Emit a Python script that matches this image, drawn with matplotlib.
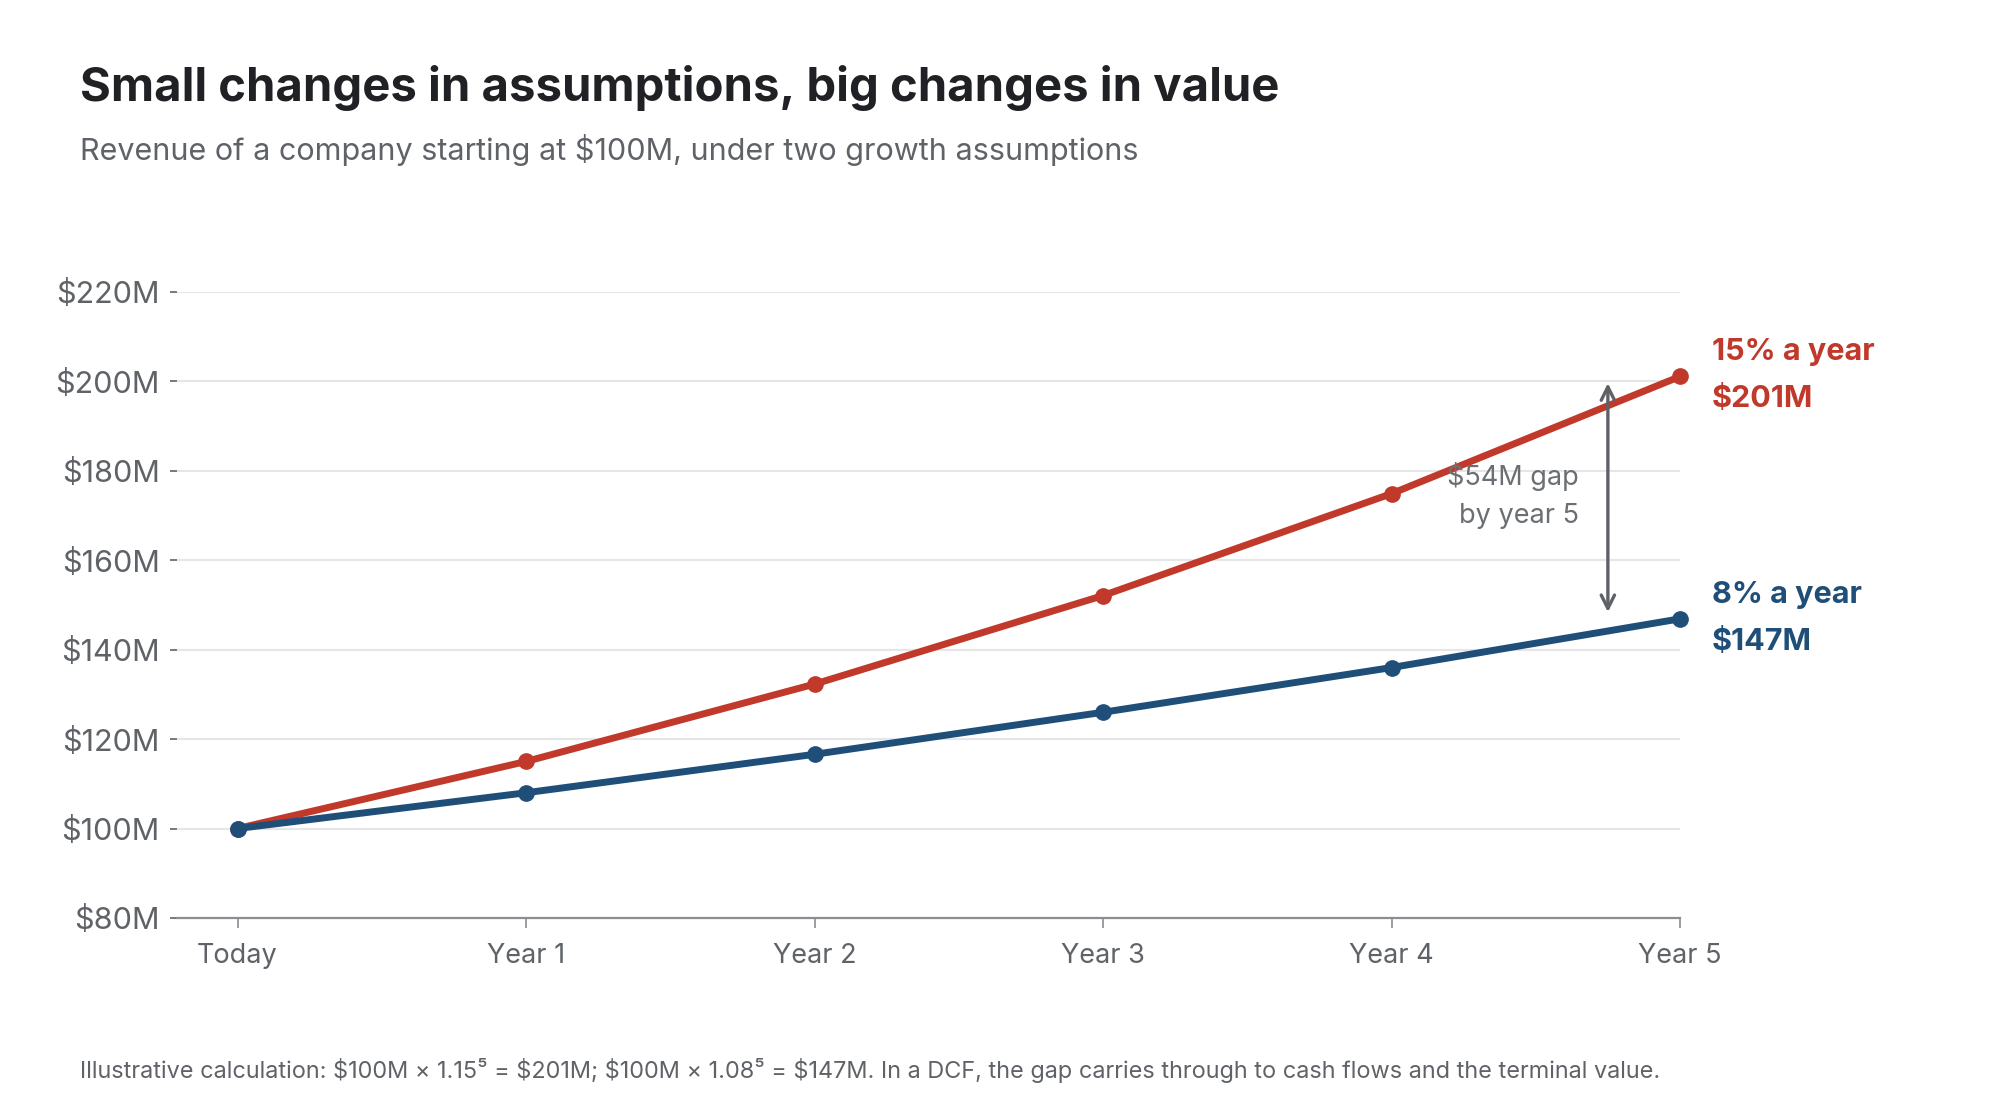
import numpy as np
import matplotlib
matplotlib.use('Agg')
import matplotlib.pyplot as plt

plt.rcParams['font.family'] = ['Inter', 'DejaVu Sans']
plt.rcParams['text.parse_math'] = False

# data
periods = ['Today', 'Year 1', 'Year 2', 'Year 3', 'Year 4', 'Year 5']
rev_15 = [100, 115, 132.3, 152.1, 174.9, 201.1]
rev_8 = [100, 108, 116.6, 126.0, 136.0, 146.9]
y_ticks = [80, 100, 120, 140, 160, 180, 200, 220]

red = '#c0392b'
blue = '#1f4e79'
grey = '#5f6368'

fig = plt.figure(figsize=(20, 11.2), dpi=100)
ax = fig.add_axes([0.0885, 0.1804, 0.7515, 0.5589])

x = np.arange(len(periods))
for yt in y_ticks[1:]:
    ax.axhline(yt, color='#e6e6e9', lw=1.5, zorder=0)

ax.plot(x, rev_15, color=red, lw=5, marker='o', ms=11, zorder=3, clip_on=False)
ax.plot(x, rev_8, color=blue, lw=5, marker='o', ms=11, zorder=3, clip_on=False)

ax.set_xlim(-0.21, 5)
ax.set_ylim(80, 220)
ax.set_xticks(x)
ax.set_xticklabels(periods)
ax.set_yticks(y_ticks)
ax.set_yticklabels(['$%dM' % v for v in y_ticks])

for s in ['top', 'right', 'left']:
    ax.spines[s].set_visible(False)
ax.spines['bottom'].set_color('#8a8d91')
ax.spines['bottom'].set_linewidth(1.6)
ax.tick_params(axis='y', length=5, width=1.2, color=grey, labelcolor=grey,
               labelsize=22, pad=7.5)
ax.tick_params(axis='x', length=7, width=1.2, color='#8a8d91', labelcolor=grey,
               labelsize=19.5, pad=11)

# end labels
for vals, col, name in [(rev_15, red, '15% a year'), (rev_8, blue, '8% a year')]:
    ax.annotate(name, (5, vals[-1]), xytext=(23, 17.5), textcoords='offset points',
                color=col, fontsize=22, fontweight='bold', va='center', ha='left',
                annotation_clip=False)
    ax.annotate('$%dM' % round(vals[-1]), (5, vals[-1]), xytext=(23, -16.5),
                textcoords='offset points', color=col, fontsize=22, fontweight='bold',
                va='center', ha='left', annotation_clip=False)

# gap arrow
ax.annotate('', xy=(4.75, rev_15[-1] - 1.5), xytext=(4.75, rev_8[-1] + 1.5),
            arrowprops=dict(arrowstyle='<->', color='#5f6166', lw=2.4,
                            mutation_scale=24, shrinkA=0, shrinkB=0))
gap = round(rev_15[-1] - rev_8[-1])
ax.text(4.65, 174.4, '$%dM gap\nby year 5' % gap, ha='right', va='center',
        fontsize=19.5, color='#6b6e73', linespacing=1.6, zorder=4)

fig.text(0.04, 0.921, 'Small changes in assumptions, big changes in value',
         fontsize=34, fontweight='bold', color='#202124', va='center', ha='left')
fig.text(0.04, 0.866, 'Revenue of a company starting at $100M, under two growth assumptions',
         fontsize=22, color='#5f6368', va='center', ha='left')
fig.text(0.04, 0.044,
         'Illustrative calculation: $100M × 1.15⁵ = $201M; $100M × 1.08⁵ = $147M. '
         'In a DCF, the gap carries through to cash flows and the terminal value.',
         fontsize=16.9, color='#5f6368', va='center', ha='left')

fig.savefig('out.png', dpi=100, facecolor='white')
